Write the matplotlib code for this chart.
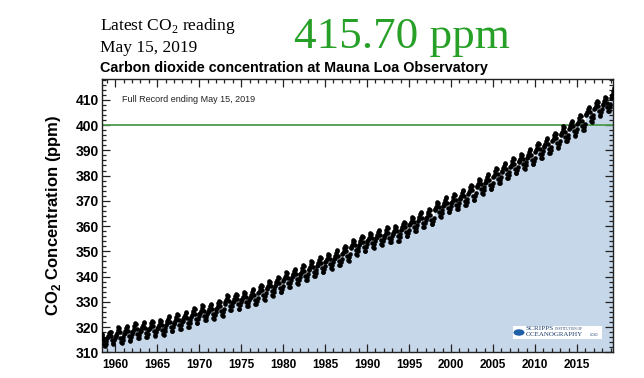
import matplotlib
matplotlib.use("Agg")
import matplotlib.pyplot as plt
from matplotlib.ticker import MultipleLocator
from matplotlib.patches import Rectangle, Circle
import numpy as np

# ---- data: monthly mean CO2 at Mauna Loa (ppm), starting March 1958 ----
start_year = 1958
start_month = 3
co2_ppm = [
    # 1958 (Mar-Dec)
    315.7, 317.5, 317.5, 317.1, 315.9, 314.9, 313.2, 312.7, 313.3, 314.7,
    # 1959
    315.6, 316.4, 316.7, 317.7, 318.3, 318.2, 316.5, 314.8, 313.8, 313.3, 314.8, 315.6,
    # 1960
    316.4, 317.0, 317.6, 319.0, 320.0, 319.6, 318.2, 315.9, 314.2, 313.8, 315.0, 316.2,
    # 1961
    317.2, 317.7, 318.5, 319.6, 320.6, 320.2, 318.4, 316.4, 314.8, 314.7, 316.1, 317.3,
    # 1962
    318.1, 318.6, 319.4, 320.5, 321.5, 321.1, 319.3, 317.3, 315.7, 315.6, 317.0, 318.2,
    # 1963
    318.6, 319.1, 319.9, 321.0, 322.0, 321.6, 319.8, 317.8, 316.2, 316.1, 317.5, 318.7,
    # 1964
    319.2, 319.7, 320.5, 321.6, 322.6, 322.2, 320.4, 318.4, 316.8, 316.7, 318.1, 319.3,
    # 1965
    319.6, 320.1, 320.9, 322.0, 323.0, 322.6, 320.8, 318.8, 317.2, 317.1, 318.5, 319.7,
    # 1966
    321.0, 321.5, 322.3, 323.4, 324.4, 324.0, 322.2, 320.2, 318.6, 318.5, 319.9, 321.1,
    # 1967
    321.8, 322.3, 323.1, 324.2, 325.2, 324.8, 323.0, 321.0, 319.4, 319.3, 320.7, 321.9,
    # 1968
    322.6, 323.1, 323.9, 325.0, 326.0, 325.6, 323.8, 321.8, 320.2, 320.1, 321.5, 322.7,
    # 1969
    324.2, 324.7, 325.5, 326.6, 327.6, 327.2, 325.4, 323.4, 321.8, 321.7, 323.1, 324.3,
    # 1970
    325.3, 325.8, 326.6, 327.7, 328.7, 328.3, 326.5, 324.5, 322.9, 322.8, 324.2, 325.4,
    # 1971
    325.9, 326.4, 327.2, 328.3, 329.3, 328.9, 327.1, 325.1, 323.5, 323.4, 324.8, 326.0,
    # 1972
    327.1, 327.6, 328.4, 329.5, 330.5, 330.1, 328.3, 326.3, 324.7, 324.6, 326.0, 327.2,
    # 1973
    329.3, 329.8, 330.6, 331.7, 332.7, 332.3, 330.5, 328.5, 326.9, 326.8, 328.2, 329.4,
    # 1974
    329.8, 330.3, 331.1, 332.2, 333.2, 332.8, 331.0, 329.0, 327.4, 327.3, 328.7, 329.9,
    # 1975
    330.7, 331.2, 332.0, 333.1, 334.1, 333.7, 331.9, 329.9, 328.3, 328.2, 329.6, 330.8,
    # 1976
    331.6, 332.1, 332.9, 334.0, 335.0, 334.6, 332.8, 330.8, 329.2, 329.1, 330.5, 331.7,
    # 1977
    333.4, 333.9, 334.7, 335.8, 336.8, 336.4, 334.6, 332.6, 331.0, 330.9, 332.3, 333.5,
    # 1978
    335.0, 335.5, 336.3, 337.4, 338.4, 338.0, 336.2, 334.2, 332.6, 332.5, 333.9, 335.1,
    # 1979
    336.4, 336.9, 337.7, 338.8, 339.8, 339.4, 337.6, 335.6, 334.0, 333.9, 335.3, 336.5,
    # 1980
    338.4, 338.9, 339.7, 340.8, 341.8, 341.4, 339.6, 337.6, 336.0, 335.9, 337.3, 338.5,
    # 1981
    339.7, 340.2, 341.0, 342.1, 343.1, 342.7, 340.9, 338.9, 337.3, 337.2, 338.6, 339.8,
    # 1982
    341.1, 341.6, 342.4, 343.5, 344.5, 344.1, 342.3, 340.3, 338.7, 338.6, 340.0, 341.2,
    # 1983
    342.7, 343.2, 344.0, 345.1, 346.1, 345.7, 343.9, 341.9, 340.3, 340.2, 341.6, 342.8,
    # 1984
    344.3, 344.8, 345.6, 346.7, 347.7, 347.3, 345.5, 343.5, 341.9, 341.8, 343.2, 344.4,
    # 1985
    345.7, 346.2, 347.0, 348.1, 349.1, 348.7, 346.9, 344.9, 343.3, 343.2, 344.6, 345.8,
    # 1986
    347.0, 347.5, 348.3, 349.4, 350.4, 350.0, 348.2, 346.2, 344.6, 344.5, 345.9, 347.1,
    # 1987
    348.8, 349.3, 350.1, 351.2, 352.2, 351.8, 350.0, 348.0, 346.4, 346.3, 347.7, 348.9,
    # 1988
    351.2, 351.7, 352.5, 353.6, 354.6, 354.2, 352.4, 350.4, 348.8, 348.7, 350.1, 351.3,
    # 1989
    352.7, 353.2, 354.0, 355.1, 356.1, 355.7, 353.9, 351.9, 350.3, 350.2, 351.6, 352.8,
    # 1990
    354.0, 354.5, 355.3, 356.4, 357.4, 357.0, 355.2, 353.2, 351.6, 351.5, 352.9, 354.1,
    # 1991
    355.2, 355.7, 356.5, 357.6, 358.6, 358.2, 356.4, 354.4, 352.8, 352.7, 354.1, 355.3,
    # 1992
    356.1, 356.6, 357.4, 358.5, 359.5, 359.1, 357.3, 355.3, 353.7, 353.6, 355.0, 356.2,
    # 1993
    356.7, 357.2, 358.0, 359.1, 360.1, 359.7, 357.9, 355.9, 354.3, 354.2, 355.6, 356.8,
    # 1994
    358.4, 358.9, 359.7, 360.8, 361.8, 361.4, 359.6, 357.6, 356.0, 355.9, 357.3, 358.5,
    # 1995
    360.4, 360.9, 361.7, 362.8, 363.8, 363.4, 361.6, 359.6, 358.0, 357.9, 359.3, 360.5,
    # 1996
    362.2, 362.7, 363.5, 364.6, 365.6, 365.2, 363.4, 361.4, 359.8, 359.7, 361.1, 362.3,
    # 1997
    363.3, 363.8, 364.6, 365.7, 366.7, 366.3, 364.5, 362.5, 360.9, 360.8, 362.2, 363.4,
    # 1998
    366.3, 366.8, 367.6, 368.7, 369.7, 369.3, 367.5, 365.5, 363.9, 363.8, 365.2, 366.4,
    # 1999
    368.0, 368.5, 369.3, 370.4, 371.4, 371.0, 369.2, 367.2, 365.6, 365.5, 366.9, 368.1,
    # 2000
    369.2, 369.7, 370.5, 371.6, 372.6, 372.2, 370.4, 368.4, 366.8, 366.7, 368.1, 369.3,
    # 2001
    370.7, 371.2, 372.0, 373.1, 374.1, 373.7, 371.9, 369.9, 368.3, 368.2, 369.6, 370.8,
    # 2002
    372.9, 373.4, 374.2, 375.3, 376.3, 375.9, 374.1, 372.1, 370.5, 370.4, 371.8, 373.0,
    # 2003
    375.4, 375.9, 376.7, 377.8, 378.8, 378.4, 376.6, 374.6, 373.0, 372.9, 374.3, 375.5,
    # 2004
    377.1, 377.6, 378.4, 379.5, 380.5, 380.1, 378.3, 376.3, 374.7, 374.6, 376.0, 377.2,
    # 2005
    379.4, 379.9, 380.7, 381.8, 382.8, 382.4, 380.6, 378.6, 377.0, 376.9, 378.3, 379.5,
    # 2006
    381.5, 382.0, 382.8, 383.9, 384.9, 384.5, 382.7, 380.7, 379.1, 379.0, 380.4, 381.6,
    # 2007
    383.4, 383.9, 384.7, 385.8, 386.8, 386.4, 384.6, 382.6, 381.0, 380.9, 382.3, 383.5,
    # 2008
    385.2, 385.7, 386.5, 387.6, 388.6, 388.2, 386.4, 384.4, 382.8, 382.7, 384.1, 385.3,
    # 2009
    387.0, 387.5, 388.3, 389.4, 390.4, 390.0, 388.2, 386.2, 384.6, 384.5, 385.9, 387.1,
    # 2010
    389.5, 390.0, 390.8, 391.9, 392.9, 392.5, 390.7, 388.7, 387.1, 387.0, 388.4, 389.6,
    # 2011
    391.3, 391.8, 392.6, 393.7, 394.7, 394.3, 392.5, 390.5, 388.9, 388.8, 390.2, 391.4,
    # 2012
    393.5, 394.0, 394.8, 395.9, 396.9, 396.5, 394.7, 392.7, 391.1, 391.0, 392.4, 393.6,
    # 2013
    396.1, 396.6, 397.4, 398.5, 399.5, 399.1, 397.3, 395.3, 393.7, 393.6, 395.0, 396.2,
    # 2014
    398.3, 398.8, 399.6, 400.7, 401.7, 401.3, 399.5, 397.5, 395.9, 395.8, 397.2, 398.4,
    # 2015
    400.4, 400.9, 401.7, 402.8, 403.8, 403.4, 401.6, 399.6, 398.0, 397.9, 399.3, 400.5,
    # 2016
    403.8, 404.3, 405.1, 406.2, 407.2, 406.8, 405.0, 403.0, 401.4, 401.3, 402.7, 403.9,
    # 2017
    406.2, 406.7, 407.5, 408.6, 409.6, 409.2, 407.4, 405.4, 403.8, 403.7, 405.1, 406.3,
    # 2018
    408.0, 408.3, 409.4, 410.2, 411.2, 410.8, 408.7, 407.0, 405.5, 405.6, 407.2, 408.4,
    # 2019 (Jan-May)
    410.8, 411.8, 412.0, 413.3, 414.7,
]
threshold_ppm = 400
latest_reading = "415.70 ppm"
latest_date = "May 15, 2019"
x_tick_years = [1960, 1965, 1970, 1975, 1980, 1985, 1990, 1995, 2000, 2005, 2010, 2015]
y_tick_values = [310, 320, 330, 340, 350, 360, 370, 380, 390, 400, 410]

# decimal-year positions (mid-month)
months = np.arange(len(co2_ppm))
x_dates = start_year + (start_month - 1 + months + 0.5) / 12.0
y_vals = np.array(co2_ppm)

SANS = "Liberation Sans"
SERIF = "Liberation Serif"
plt.rcParams['font.family'] = [SANS, 'DejaVu Sans']

fig = plt.figure(figsize=(6.44, 3.78), dpi=100)
ax = fig.add_axes([0.158, 0.0675, 0.794, 0.7235])

ymin, ymax = 310, 418.2
ax.fill_between(x_dates, y_vals, ymin, color='#c6d7ea', lw=0, zorder=1)
ax.axhline(threshold_ppm, color='#4c9a4c', lw=1.3, zorder=2)
ax.plot(x_dates, y_vals, 'o', color='black', markersize=3.3, markeredgewidth=0, zorder=3)

ax.set_xlim(1958.4, 2019.3)
ax.set_ylim(ymin, ymax)
ax.set_xticks(x_tick_years)
ax.set_yticks(y_tick_values)
ax.xaxis.set_minor_locator(MultipleLocator(1))
ax.yaxis.set_minor_locator(MultipleLocator(2))
ax.tick_params(which='both', direction='in', top=True, right=True, width=0.9, color='#222222')
ax.tick_params(which='major', length=6)
ax.tick_params(which='minor', length=3)
ax.tick_params(axis='x', which='major', pad=5)
ax.tick_params(axis='y', which='major', pad=2)
ax.set_xticklabels([str(v) for v in x_tick_years], fontweight='bold', fontsize=8.5)
ax.set_yticklabels([str(v) for v in y_tick_values], fontweight='bold', fontsize=10)
for sp in ax.spines.values():
    sp.set_linewidth(1.0)
    sp.set_color('#222222')

ax.set_ylabel(r"CO$_\mathregular{2}$ Concentration (ppm)", fontsize=12, fontweight='bold', labelpad=9)

ax.text(0.04, 0.925, "Full Record ending " + latest_date, transform=ax.transAxes,
        fontsize=6.5, color='#222222', va='center', ha='left')

# header texts
fig.text(100 / 644, 1 - 30 / 378, r"Latest CO$_\mathregular{2}$ reading", family=SERIF,
         fontsize=12.5, ha='left', va='baseline')
fig.text(100 / 644, 1 - 52 / 378, latest_date, family=SERIF, fontsize=12.5,
         ha='left', va='baseline')
fig.text(294 / 644, 1 - 48 / 378, latest_reading, family=SERIF, fontsize=32.5,
         color='#27a027', ha='left', va='baseline')
fig.text(100 / 644, 1 - 72 / 378, "Carbon dioxide concentration at Mauna Loa Observatory",
         fontsize=10.4, fontweight='bold', ha='left', va='baseline')

# Scripps logo (approximation)
lx0, ly0, lw_, lh_ = 513 / 644, 1 - 339 / 378, 89 / 644, 13 / 378
fig.patches.append(Rectangle((lx0, ly0), lw_, lh_, transform=fig.transFigure,
                             facecolor='white', edgecolor='none', zorder=5))
fig.patches.append(Circle((519 / 644, 1 - 332.5 / 378), 5.5 / 644, transform=fig.transFigure,
                          facecolor='#1f5fa8', edgecolor='none', zorder=6))
fig.text(526 / 644, 1 - 330 / 378, "SCRIPPS", family=SERIF, fontsize=5.2,
         color='#1d3f6e', va='baseline', ha='left', zorder=7)
fig.text(555 / 644, 1 - 330 / 378, "INSTITUTION OF", family=SERIF, fontsize=2.5,
         color='#1d3f6e', va='baseline', ha='left', zorder=7)
fig.text(526 / 644, 1 - 336.5 / 378, "OCEANOGRAPHY", family=SERIF, fontsize=5.0,
         color='#1d3f6e', va='baseline', ha='left', zorder=7)
fig.text(590 / 644, 1 - 336.5 / 378, "UCSD", family=SANS, fontsize=2.2,
         color='#1d3f6e', va='baseline', ha='left', zorder=7)

fig.savefig("out.png", dpi=100)
